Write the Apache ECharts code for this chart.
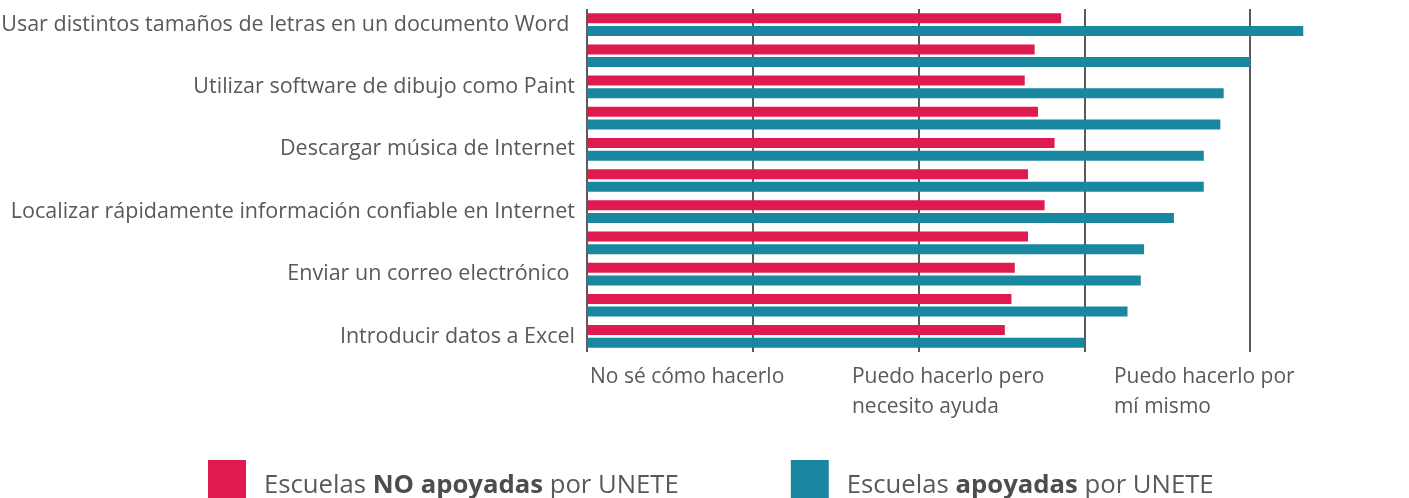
<!DOCTYPE html>
<html>
<head>
<meta charset="utf-8">
<script src="https://cdn.jsdelivr.net/npm/echarts@6/dist/echarts.min.js"></script>
<style>
  html, body { margin: 0; padding: 0; background: #fff; }
  #main-chart { width: 1409px; height: 498px; }
</style>
</head>
<body>
<div id="main-chart"></div>
<script>
// rows top to bottom, only every other one carries a label
const categories = [
  'Usar distintos tamaños de letras en un documento Word ',
  '',
  'Utilizar software de dibujo como Paint',
  '',
  'Descargar música de Internet',
  '',
  'Localizar rápidamente información confiable en Internet',
  '',
  'Enviar un correo electrónico ',
  '',
  'Introducir datos a Excel'
]
const seriesNames = ['Escuelas NO apoyadas por UNETE', 'Escuelas apoyadas por UNETE']
// legend pieces: [normal, bold, normal]
const legendParts = [
  ['Escuelas ', 'NO apoyadas', ' por UNETE'],
  ['Escuelas ', 'apoyadas', ' por UNETE']
]
const noApoyadas = [2.43, 2.35, 2.32, 2.36, 2.41, 2.33, 2.38, 2.33, 2.29, 2.28, 2.26]
const apoyadas = [3.16, 3.00, 2.92, 2.91, 2.86, 2.86, 2.77, 2.68, 2.67, 2.63, 2.50]
const levelLabels = ['No sé cómo hacerlo', 'Puedo hacerlo pero\nnecesito ayuda', 'Puedo hacerlo por\nmí mismo']
const levelStep = 1.58

const FONT = '"Open Sans"'
const TXT = '#58595b'

const chartDom = document.getElementById('main-chart')
const myChart = echarts.init(chartDom)

const option = {
  animation: false,
  textStyle: { fontFamily: FONT },
  grid: {
    left: 587,
    top: 9,
    height: 343,
    width: 829,
    outerBoundsMode: 'none',
    containLabel: false
  },
  xAxis: [
    {
      type: 'value',
      min: 1,
      max: 3.5,
      interval: 0.5,
      axisLine: { show: false },
      axisTick: { show: false },
      axisLabel: { show: false },
      splitLine: { show: true, lineStyle: { color: '#5a5a5a', width: 2 } }
    },
    {
      // answer scale labels, placed on their own axis
      type: 'value',
      position: 'bottom',
      min: 0,
      max: 5,
      interval: levelStep,
      axisLine: { show: false },
      axisTick: { show: false },
      splitLine: { show: false },
      axisLabel: {
        show: true,
        align: 'left',
        margin: 10,
        fontFamily: FONT,
        fontSize: 21,
        lineHeight: 30,
        color: TXT,
        padding: [0, 0, 0, 3],
        formatter: function (value) {
          const i = Math.round(value / levelStep)
          if (Math.abs(value - i * levelStep) > 1e-6) return ''
          return levelLabels[i] || ''
        }
      }
    }
  ],
  yAxis: {
    type: 'category',
    inverse: true,
    data: categories,
    axisLine: { show: false },
    axisTick: { show: false },
    splitLine: { show: false },
    axisLabel: {
      interval: 0,
      margin: 12,
      fontFamily: FONT,
      fontSize: 21.5,
      color: TXT
    }
  },
  legend: {
    left: 208,
    top: 460,
    padding: 0,
    itemWidth: 38,
    itemHeight: 52,
    itemGap: 112,
    icon: 'rect',
    data: seriesNames,
    textStyle: {
      fontFamily: FONT,
      fontSize: 25.7,
      color: TXT,
      padding: [0, 0, 0, 13],
      rich: {
        n: { fontFamily: FONT, fontSize: 25.7, color: TXT },
        b: { fontFamily: FONT, fontSize: 25.7, color: '#4d4d4f', fontWeight: 'bold' }
      }
    },
    formatter: function (name) {
      const p = legendParts[seriesNames.indexOf(name)]
      return '{n|' + p[0] + '}{b|' + p[1] + '}{n|' + p[2] + '}'
    }
  },
  series: [
    {
      name: seriesNames[0],
      type: 'bar',
      xAxisIndex: 0,
      data: noApoyadas,
      barWidth: 10,
      barGap: '27%',
      itemStyle: { color: '#de1a4f' }
    },
    {
      name: seriesNames[1],
      type: 'bar',
      xAxisIndex: 0,
      data: apoyadas,
      barWidth: 10,
      barGap: '27%',
      itemStyle: { color: '#1a87a0' }
    }
  ]
}

option && myChart.setOption(option)
window.addEventListener('resize', function () {
  myChart.resize()
})
</script>
</body>
</html>
